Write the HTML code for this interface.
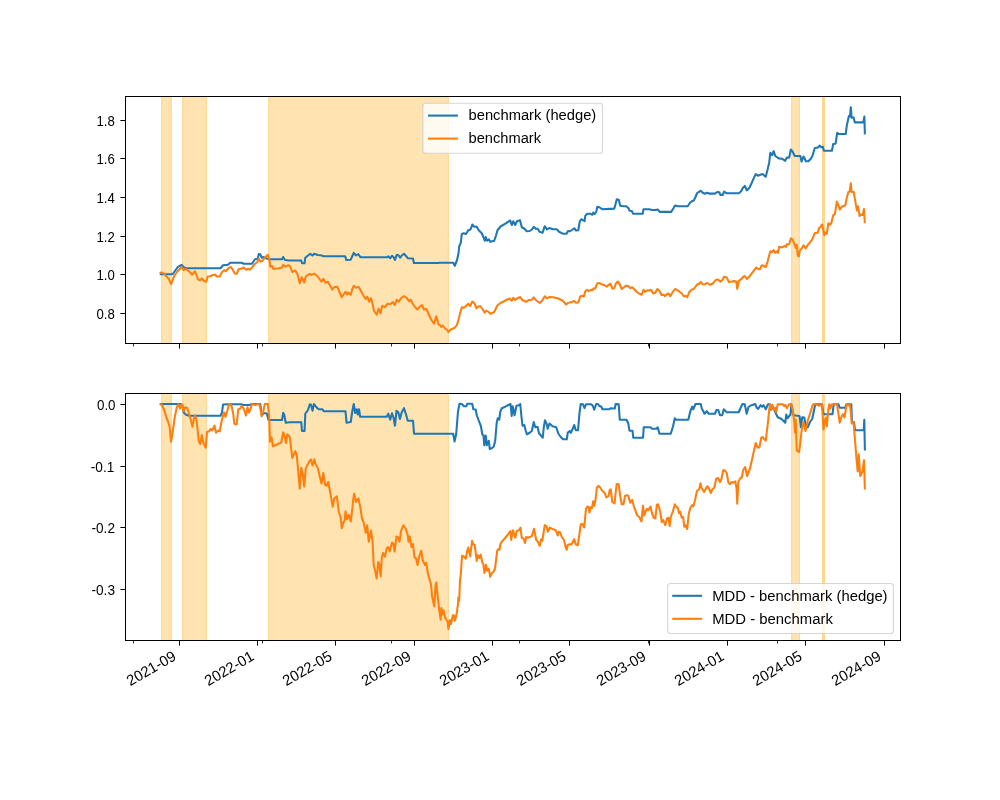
<!DOCTYPE html>
<html><head><meta charset="utf-8"><title>benchmark hedge chart</title>
<style>html,body{margin:0;padding:0;background:#fff}svg{display:block}</style></head>
<body>
<svg width="1000" height="800" viewBox="0 0 1000 800">
<rect width="1000" height="800" fill="#fff"/>
<defs><clipPath id="c1"><rect x="125.5" y="96.5" width="775" height="247"/></clipPath><clipPath id="c2"><rect x="125.5" y="393.5" width="775" height="247"/></clipPath></defs>
<g clip-path="url(#c1)">
<rect x="161" y="91.5" width="11" height="257.00" fill="#ffa500" fill-opacity="0.3"/>
<rect x="161.0" y="91.5" width="1.4" height="257.00" fill="#ffa500" fill-opacity="0.15"/>
<rect x="170.60000000000002" y="91.5" width="1.4" height="257.00" fill="#ffa500" fill-opacity="0.15"/>
<rect x="182" y="91.5" width="25" height="257.00" fill="#ffa500" fill-opacity="0.3"/>
<rect x="182.0" y="91.5" width="1.4" height="257.00" fill="#ffa500" fill-opacity="0.15"/>
<rect x="205.60000000000002" y="91.5" width="1.4" height="257.00" fill="#ffa500" fill-opacity="0.15"/>
<rect x="268" y="91.5" width="181" height="257.00" fill="#ffa500" fill-opacity="0.3"/>
<rect x="268.0" y="91.5" width="1.4" height="257.00" fill="#ffa500" fill-opacity="0.15"/>
<rect x="447.6" y="91.5" width="1.4" height="257.00" fill="#ffa500" fill-opacity="0.15"/>
<rect x="791" y="91.5" width="9" height="257.00" fill="#ffa500" fill-opacity="0.3"/>
<rect x="791.0" y="91.5" width="1.4" height="257.00" fill="#ffa500" fill-opacity="0.15"/>
<rect x="798.5999999999999" y="91.5" width="1.4" height="257.00" fill="#ffa500" fill-opacity="0.15"/>
<rect x="822" y="91.5" width="3" height="257.00" fill="#ffa500" fill-opacity="0.3"/>
<rect x="822.0" y="91.5" width="1.5" height="257.00" fill="#ffa500" fill-opacity="0.22"/>
<rect x="823.5" y="91.5" width="1.5" height="257.00" fill="#ffa500" fill-opacity="0.22"/>
<path d="M159.75 274.25 L172.50 274.25 L174.75 271.25 L177.75 267.20 L181.50 264.80 L183.75 267.20 L186.00 268.25 L220.50 268.25 L223.05 265.25 L228.00 264.80 L230.25 262.70 L241.50 262.70 L243.75 263.75 L252.00 263.75 L255.00 259.25 L257.70 258.80 L258.75 254.00 L260.25 254.30 L261.75 257.75 L264.00 257.00 L266.25 258.50 L270.00 259.25 L282.00 259.25 L283.20 257.00 L285.00 260.00 L289.50 260.45 L290.00 260.45 L301.25 260.45 L302.00 263.30 L304.55 263.30 L305.30 257.75 L308.00 255.50 L310.25 253.70 L312.50 255.50 L314.30 253.70 L317.75 255.05 L320.75 255.20 L323.75 256.25 L345.20 256.25 L346.25 260.00 L350.75 259.70 L352.25 256.25 L353.75 252.80 L356.00 255.50 L358.25 254.00 L360.50 257.30 L386.75 257.30 L388.25 256.25 L390.20 258.20 L392.00 255.80 L393.50 257.00 L395.00 260.00 L396.80 254.75 L398.75 255.50 L400.25 257.75 L401.75 255.50 L404.00 253.70 L406.25 256.25 L407.75 258.20 L413.00 258.50 L413.90 263.00 L438.50 263.00 L439.00 262.80 L453.25 262.80 L454.75 265.80 L457.00 260.25 L458.50 253.50 L459.25 246.00 L460.75 243.00 L461.80 234.00 L463.75 233.25 L466.00 234.00 L468.25 230.25 L470.50 229.50 L472.30 224.55 L474.25 226.80 L476.50 226.50 L478.75 230.25 L481.75 233.25 L483.70 237.75 L484.75 240.75 L485.80 237.00 L487.00 240.75 L488.80 239.25 L490.30 241.80 L494.20 240.75 L496.00 235.50 L497.50 230.25 L500.50 226.50 L505.00 223.80 L510.25 220.50 L511.75 225.00 L513.25 221.25 L515.20 225.00 L517.00 221.25 L520.00 220.20 L521.80 227.25 L524.50 228.75 L526.75 231.30 L529.75 231.00 L532.00 229.50 L533.80 226.80 L535.75 228.75 L537.70 228.75 L539.50 231.75 L542.50 232.80 L544.75 226.20 L547.00 229.50 L549.25 228.00 L553.00 229.20 L556.75 229.20 L559.00 231.75 L562.75 233.70 L566.50 233.70 L568.00 231.00 L570.00 231.25 L572.25 229.75 L574.20 228.25 L576.00 230.50 L578.25 230.20 L579.75 221.50 L581.25 219.25 L582.75 220.00 L584.55 221.20 L585.30 215.80 L587.25 213.70 L590.25 213.70 L592.50 214.75 L593.25 212.50 L594.75 214.00 L596.25 211.75 L597.30 206.80 L599.25 207.25 L602.25 209.20 L609.75 208.90 L614.25 208.75 L615.30 205.00 L616.80 199.30 L618.75 199.75 L620.25 205.75 L623.25 206.20 L626.25 206.20 L628.50 208.30 L629.70 210.70 L631.80 211.00 L633.00 213.70 L642.75 213.70 L643.50 209.20 L649.50 209.20 L651.75 209.95 L655.50 209.95 L657.75 209.50 L659.70 211.90 L671.25 211.90 L673.50 208.30 L675.00 205.45 L678.00 206.20 L687.75 206.20 L690.00 202.75 L691.80 201.25 L693.75 200.50 L695.25 197.50 L697.20 193.00 L699.00 191.80 L700.80 190.75 L702.75 192.70 L705.00 193.75 L707.25 192.70 L709.50 193.75 L710.00 193.60 L714.80 193.60 L717.20 192.00 L719.28 192.32 L720.40 194.88 L722.80 194.88 L724.08 191.68 L726.80 193.28 L738.80 193.28 L741.20 191.20 L742.80 188.00 L744.88 185.92 L746.80 190.40 L749.20 188.00 L751.60 183.20 L754.00 177.60 L755.92 174.08 L758.00 175.68 L760.40 174.72 L762.48 174.08 L765.68 176.80 L767.60 169.60 L769.20 162.40 L770.32 152.80 L772.08 155.20 L773.68 151.20 L775.28 156.00 L778.80 158.40 L782.00 158.72 L785.20 160.80 L786.80 157.60 L789.20 157.60 L790.80 149.60 L792.40 151.20 L794.80 156.00 L800.40 156.00 L801.52 161.60 L803.60 156.48 L806.00 161.28 L808.40 161.28 L810.80 158.72 L812.40 156.00 L814.80 148.00 L818.00 147.52 L819.60 145.60 L821.20 147.20 L822.80 146.88 L823.92 150.72 L831.92 150.72 L833.20 144.00 L835.60 143.68 L837.20 132.80 L838.80 134.08 L845.68 134.08 L846.80 125.60 L848.88 116.00 L850.00 116.48 L850.80 107.20 L851.60 117.60 L853.68 117.60 L854.80 122.40 L863.28 122.40 L864.40 116.48 L864.88 134.40" fill="none" stroke="#1f77b4" stroke-width="2.08" stroke-linejoin="round" stroke-linecap="butt"/>
<path d="M159.75 273.50 L161.25 272.45 L164.25 273.80 L166.50 276.50 L168.75 278.75 L171.00 284.00 L172.50 280.25 L174.75 275.00 L177.00 272.00 L180.00 268.70 L181.80 267.05 L183.75 270.20 L186.00 269.00 L189.75 272.00 L192.00 274.70 L195.00 271.25 L198.00 279.50 L200.25 280.25 L201.75 278.30 L204.00 281.00 L206.25 281.75 L207.75 276.50 L210.00 276.20 L213.00 275.00 L215.25 274.55 L216.75 276.50 L219.75 276.50 L222.00 272.00 L224.25 270.20 L225.75 271.25 L228.00 268.70 L230.70 266.75 L232.50 269.30 L234.75 273.50 L236.70 273.80 L238.50 269.30 L241.50 268.70 L243.75 267.50 L246.00 269.75 L248.25 268.70 L249.75 269.75 L252.00 267.50 L255.00 263.75 L257.25 262.25 L258.75 258.50 L260.25 261.50 L262.50 260.75 L264.75 257.75 L267.75 254.75 L269.25 259.25 L270.45 266.75 L272.25 266.00 L273.30 269.00 L279.00 268.25 L282.00 267.50 L283.20 264.80 L285.75 266.75 L288.00 265.25 L289.80 266.00 L290.00 266.00 L292.25 272.00 L295.25 270.50 L297.50 274.25 L299.75 283.25 L301.70 277.25 L304.25 282.50 L305.75 276.50 L309.50 273.80 L311.75 275.00 L314.00 273.50 L317.00 275.75 L319.25 278.75 L321.50 281.75 L323.30 278.75 L325.25 282.50 L327.80 281.75 L330.50 286.25 L332.45 289.70 L334.25 287.00 L337.25 286.70 L339.50 292.25 L341.75 297.20 L343.70 294.50 L345.50 291.80 L347.00 294.50 L348.50 292.70 L350.75 294.80 L352.25 289.25 L353.75 285.80 L356.00 287.75 L358.70 287.00 L360.50 290.00 L362.75 294.50 L365.75 299.00 L367.25 296.75 L369.20 301.70 L371.00 298.25 L372.50 303.50 L374.00 311.00 L376.70 314.75 L378.50 308.75 L380.45 313.25 L382.25 305.75 L384.50 307.25 L387.50 303.80 L390.20 304.25 L392.75 302.00 L394.70 305.00 L396.80 299.75 L398.75 301.70 L401.00 298.25 L404.00 296.00 L406.25 297.50 L409.25 301.25 L410.75 299.75 L413.00 304.25 L415.25 307.25 L417.50 309.50 L419.75 306.50 L422.00 305.00 L423.95 309.50 L426.20 308.75 L428.00 312.50 L431.00 319.25 L434.00 323.75 L436.25 316.25 L438.50 324.50 L439.75 324.75 L441.25 327.00 L442.75 325.50 L445.00 328.50 L447.25 330.00 L448.45 331.95 L450.25 329.70 L452.50 328.80 L454.75 327.75 L457.00 324.75 L458.95 318.00 L460.00 313.50 L461.80 307.20 L463.75 307.80 L466.00 306.00 L468.25 303.75 L470.20 306.00 L472.30 301.50 L474.25 303.00 L476.50 308.25 L478.00 306.75 L480.25 306.00 L482.50 309.00 L484.75 312.75 L486.25 310.50 L488.50 312.00 L490.30 313.80 L494.20 312.00 L496.00 308.25 L497.50 305.25 L500.50 303.00 L505.00 300.75 L509.50 298.50 L511.75 300.75 L513.25 297.75 L515.20 300.00 L517.00 298.50 L520.30 297.00 L522.25 300.00 L526.00 301.80 L529.00 300.00 L532.00 299.70 L533.80 297.30 L535.75 300.00 L537.70 301.50 L539.80 303.00 L542.20 300.75 L544.75 296.25 L547.00 298.50 L549.25 297.00 L553.00 297.30 L557.50 298.20 L559.75 299.25 L562.75 300.75 L566.20 304.50 L568.00 302.70 L570.00 302.50 L572.25 301.75 L574.20 301.00 L576.00 302.80 L578.25 302.50 L580.20 296.50 L582.00 295.75 L583.80 296.50 L585.30 291.25 L587.25 289.75 L588.75 291.25 L591.00 289.75 L592.50 290.20 L593.70 288.25 L595.20 288.70 L597.00 283.75 L598.80 283.00 L602.25 284.50 L604.50 285.25 L606.75 286.75 L608.70 284.80 L610.50 283.75 L612.45 288.70 L614.25 288.25 L615.75 283.75 L617.70 281.50 L619.50 283.75 L621.75 289.00 L624.00 287.20 L626.25 285.70 L628.80 286.30 L630.30 288.25 L632.25 287.20 L634.20 289.00 L636.75 292.00 L639.00 293.50 L641.70 294.70 L643.50 289.75 L645.00 292.00 L647.25 290.20 L649.50 290.50 L651.00 289.75 L653.25 293.50 L655.20 292.75 L657.30 289.00 L659.70 291.25 L661.50 295.00 L663.75 294.70 L664.80 296.20 L666.75 294.25 L668.70 293.50 L670.20 296.20 L672.75 292.00 L675.00 289.00 L677.25 290.20 L679.50 291.70 L681.75 293.50 L684.00 296.50 L685.80 295.75 L687.30 297.25 L689.25 292.00 L691.50 289.75 L693.75 289.00 L696.00 286.00 L697.50 284.20 L699.30 283.75 L700.80 281.80 L702.75 284.50 L705.00 284.20 L707.25 283.00 L709.50 284.50 L710.00 284.80 L713.20 283.20 L715.60 280.00 L718.00 279.52 L720.40 281.60 L722.48 280.00 L724.08 276.80 L726.80 277.60 L728.88 282.08 L731.60 281.60 L734.00 281.12 L736.40 281.60 L737.20 288.80 L738.80 280.80 L741.20 279.20 L743.28 276.80 L744.88 276.00 L746.80 278.88 L749.20 276.80 L751.60 273.60 L754.00 270.40 L756.08 267.68 L758.00 268.80 L759.92 269.28 L761.52 265.60 L763.60 265.60 L765.68 267.20 L767.60 261.60 L769.20 255.20 L770.32 251.20 L772.08 252.00 L773.68 250.08 L775.28 252.80 L777.20 251.20 L778.00 252.80 L779.12 246.88 L782.00 247.20 L784.88 245.92 L786.00 246.88 L786.80 244.32 L789.20 244.32 L790.80 238.40 L792.88 240.00 L794.80 245.28 L796.08 248.00 L796.88 244.80 L797.68 255.20 L798.80 256.48 L799.92 250.40 L801.52 248.80 L803.60 245.28 L805.68 248.48 L807.92 244.80 L810.00 242.40 L812.40 239.20 L814.80 233.12 L817.52 232.80 L819.12 228.00 L820.40 227.20 L822.00 224.48 L823.28 229.60 L824.40 235.20 L825.52 232.48 L826.80 233.60 L828.40 223.20 L830.00 224.80 L831.28 223.20 L833.20 215.20 L834.80 214.40 L836.88 201.60 L838.48 205.60 L839.92 209.60 L842.00 206.40 L845.20 205.60 L846.80 197.60 L848.40 192.00 L849.68 191.52 L850.80 183.20 L851.60 192.00 L853.68 192.00 L854.80 198.40 L856.88 210.40 L858.00 206.40 L859.60 216.00 L861.20 214.40 L862.80 214.88 L863.92 209.12 L864.88 223.20" fill="none" stroke="#ff7f0e" stroke-width="2.08" stroke-linejoin="round" stroke-linecap="butt"/>
</g>
<line x1="179.5" y1="343.5" x2="179.5" y2="348.60" stroke="#000" stroke-width="1"/>
<line x1="257.5" y1="343.5" x2="257.5" y2="348.60" stroke="#000" stroke-width="1"/>
<line x1="335.5" y1="343.5" x2="335.5" y2="348.60" stroke="#000" stroke-width="1"/>
<line x1="414.5" y1="343.5" x2="414.5" y2="348.60" stroke="#000" stroke-width="1"/>
<line x1="492.5" y1="343.5" x2="492.5" y2="348.60" stroke="#000" stroke-width="1"/>
<line x1="569.5" y1="343.5" x2="569.5" y2="348.60" stroke="#000" stroke-width="1"/>
<line x1="649.5" y1="343.5" x2="649.5" y2="348.60" stroke="#000" stroke-width="1"/>
<line x1="727.5" y1="343.5" x2="727.5" y2="348.60" stroke="#000" stroke-width="1"/>
<line x1="805.5" y1="343.5" x2="805.5" y2="348.60" stroke="#000" stroke-width="1"/>
<line x1="884.5" y1="343.5" x2="884.5" y2="348.60" stroke="#000" stroke-width="1"/>
<line x1="133.5" y1="343.5" x2="133.5" y2="346.50" stroke="#000" stroke-width="1" stroke-opacity="0.8"/>
<line x1="262.5" y1="343.5" x2="262.5" y2="346.50" stroke="#000" stroke-width="1" stroke-opacity="0.8"/>
<line x1="391.5" y1="343.5" x2="391.5" y2="346.50" stroke="#000" stroke-width="1" stroke-opacity="0.8"/>
<line x1="519.5" y1="343.5" x2="519.5" y2="346.50" stroke="#000" stroke-width="1" stroke-opacity="0.8"/>
<line x1="648.5" y1="343.5" x2="648.5" y2="346.50" stroke="#000" stroke-width="1" stroke-opacity="0.8"/>
<line x1="777.5" y1="343.5" x2="777.5" y2="346.50" stroke="#000" stroke-width="1" stroke-opacity="0.8"/>
<line x1="125.5" y1="313.5" x2="120.40" y2="313.5" stroke="#000" stroke-width="1"/>
<text x="114.78" y="318.80" text-anchor="end" font-family="Liberation Sans, sans-serif" font-size="15" textLength="18.3" lengthAdjust="spacingAndGlyphs" fill="#000">0.8</text>
<line x1="125.5" y1="274.5" x2="120.40" y2="274.5" stroke="#000" stroke-width="1"/>
<text x="114.78" y="279.80" text-anchor="end" font-family="Liberation Sans, sans-serif" font-size="15" textLength="18.3" lengthAdjust="spacingAndGlyphs" fill="#000">1.0</text>
<line x1="125.5" y1="236.5" x2="120.40" y2="236.5" stroke="#000" stroke-width="1"/>
<text x="114.78" y="241.80" text-anchor="end" font-family="Liberation Sans, sans-serif" font-size="15" textLength="18.3" lengthAdjust="spacingAndGlyphs" fill="#000">1.2</text>
<line x1="125.5" y1="197.5" x2="120.40" y2="197.5" stroke="#000" stroke-width="1"/>
<text x="114.78" y="202.80" text-anchor="end" font-family="Liberation Sans, sans-serif" font-size="15" textLength="18.3" lengthAdjust="spacingAndGlyphs" fill="#000">1.4</text>
<line x1="125.5" y1="158.5" x2="120.40" y2="158.5" stroke="#000" stroke-width="1"/>
<text x="114.78" y="163.80" text-anchor="end" font-family="Liberation Sans, sans-serif" font-size="15" textLength="18.3" lengthAdjust="spacingAndGlyphs" fill="#000">1.6</text>
<line x1="125.5" y1="120.5" x2="120.40" y2="120.5" stroke="#000" stroke-width="1"/>
<text x="114.78" y="125.80" text-anchor="end" font-family="Liberation Sans, sans-serif" font-size="15" textLength="18.3" lengthAdjust="spacingAndGlyphs" fill="#000">1.8</text>
<rect x="125.5" y="96.5" width="775.0" height="247.0" fill="none" stroke="#000" stroke-width="1"/>
<rect x="422.9" y="103.2" width="179.6" height="50.0" rx="2.8" ry="2.8" fill="#fff" fill-opacity="0.8" stroke="#ccc" stroke-opacity="0.8" stroke-width="1.11"/>
<line x1="429.06" y1="115.6" x2="456.86" y2="115.6" stroke="#1f77b4" stroke-width="2.08" stroke-linecap="square"/>
<text x="468.56" y="119.90" font-family="Liberation Sans, sans-serif" font-size="15.3" textLength="127.7" lengthAdjust="spacingAndGlyphs" fill="#000">benchmark (hedge)</text>
<line x1="429.06" y1="138.6" x2="456.86" y2="138.6" stroke="#ff7f0e" stroke-width="2.08" stroke-linecap="square"/>
<text x="468.56" y="142.90" font-family="Liberation Sans, sans-serif" font-size="15.3" textLength="72.5" lengthAdjust="spacingAndGlyphs" fill="#000">benchmark</text>
<g clip-path="url(#c2)">
<rect x="161" y="388.5" width="11" height="257.00" fill="#ffa500" fill-opacity="0.3"/>
<rect x="161.0" y="388.5" width="1.4" height="257.00" fill="#ffa500" fill-opacity="0.15"/>
<rect x="170.60000000000002" y="388.5" width="1.4" height="257.00" fill="#ffa500" fill-opacity="0.15"/>
<rect x="182" y="388.5" width="25" height="257.00" fill="#ffa500" fill-opacity="0.3"/>
<rect x="182.0" y="388.5" width="1.4" height="257.00" fill="#ffa500" fill-opacity="0.15"/>
<rect x="205.60000000000002" y="388.5" width="1.4" height="257.00" fill="#ffa500" fill-opacity="0.15"/>
<rect x="268" y="388.5" width="181" height="257.00" fill="#ffa500" fill-opacity="0.3"/>
<rect x="268.0" y="388.5" width="1.4" height="257.00" fill="#ffa500" fill-opacity="0.15"/>
<rect x="447.6" y="388.5" width="1.4" height="257.00" fill="#ffa500" fill-opacity="0.15"/>
<rect x="791" y="388.5" width="9" height="257.00" fill="#ffa500" fill-opacity="0.3"/>
<rect x="791.0" y="388.5" width="1.4" height="257.00" fill="#ffa500" fill-opacity="0.15"/>
<rect x="798.5999999999999" y="388.5" width="1.4" height="257.00" fill="#ffa500" fill-opacity="0.15"/>
<rect x="822" y="388.5" width="3" height="257.00" fill="#ffa500" fill-opacity="0.3"/>
<rect x="822.0" y="388.5" width="1.5" height="257.00" fill="#ffa500" fill-opacity="0.22"/>
<rect x="823.5" y="388.5" width="1.5" height="257.00" fill="#ffa500" fill-opacity="0.22"/>
<path d="M159.75 403.95 L177.00 403.95 L180.00 403.95 L182.25 405.00 L183.75 412.50 L186.00 414.75 L189.00 415.80 L220.50 415.80 L222.00 412.50 L223.05 404.55 L228.00 404.25 L241.50 404.25 L243.00 405.00 L249.75 405.00 L252.00 403.95 L260.25 403.95 L261.75 415.50 L264.00 413.25 L266.70 413.25 L268.50 420.00 L282.00 420.00 L283.20 412.80 L284.25 414.75 L285.75 422.70 L289.50 422.25 L290.00 422.30 L301.25 422.30 L302.00 431.00 L304.55 431.00 L305.30 413.75 L308.00 410.00 L309.80 404.30 L311.00 404.75 L312.50 410.75 L314.00 404.00 L316.25 407.00 L318.50 409.25 L322.25 409.25 L323.75 411.20 L345.50 411.20 L346.55 422.75 L350.75 422.00 L352.25 411.50 L353.75 404.00 L355.25 413.00 L356.75 409.25 L357.80 414.50 L359.00 409.25 L360.20 416.75 L386.75 416.75 L388.25 413.75 L390.20 419.75 L392.00 413.30 L393.50 417.50 L395.00 425.75 L396.50 410.75 L398.30 412.25 L399.95 419.00 L401.75 412.25 L404.00 408.20 L406.25 415.25 L407.75 420.80 L413.00 420.80 L414.05 433.70 L438.50 433.70 L440.00 433.70 L453.20 433.70 L454.55 441.50 L456.20 434.00 L458.00 411.50 L459.50 403.70 L461.75 404.00 L464.00 406.25 L466.25 406.25 L467.30 403.70 L472.25 403.70 L473.30 409.25 L475.70 409.55 L476.75 415.25 L479.00 421.25 L480.80 425.75 L482.30 434.30 L483.50 435.50 L484.25 445.25 L485.75 435.50 L486.80 445.25 L488.75 440.75 L489.80 449.00 L491.75 448.25 L493.70 446.75 L495.20 440.75 L496.70 422.75 L497.75 418.25 L499.25 419.75 L500.30 411.50 L501.80 408.20 L505.25 406.70 L510.50 404.00 L511.70 416.00 L512.75 406.25 L514.55 415.25 L516.50 405.80 L518.75 405.20 L520.25 404.00 L521.30 415.25 L522.50 425.75 L524.30 425.00 L525.80 431.00 L527.00 434.30 L530.00 432.50 L531.80 431.00 L533.75 422.00 L535.25 427.25 L537.50 426.80 L539.00 433.25 L542.75 437.75 L543.80 427.25 L545.00 420.20 L546.80 424.25 L547.70 428.75 L549.50 423.50 L552.50 426.20 L556.25 427.25 L558.50 434.00 L560.75 437.00 L563.00 439.25 L566.75 439.25 L567.80 432.50 L569.75 431.00 L570.80 432.80 L572.75 428.75 L574.25 425.00 L575.75 430.25 L578.00 430.25 L579.50 413.00 L580.75 404.00 L583.00 404.30 L584.50 408.20 L586.00 404.30 L591.25 404.30 L592.75 405.80 L594.25 409.70 L596.20 404.00 L598.00 404.00 L599.50 406.25 L601.00 406.25 L602.50 409.25 L609.25 409.25 L610.75 408.20 L612.70 408.50 L614.80 408.50 L615.70 404.00 L618.70 404.30 L619.75 419.75 L626.50 419.75 L628.30 423.50 L629.50 430.70 L632.50 430.70 L633.25 437.75 L643.00 437.75 L643.75 427.25 L650.50 427.25 L652.00 428.75 L656.50 428.75 L657.70 427.25 L659.50 433.70 L670.75 433.70 L673.00 426.50 L674.80 418.25 L676.30 419.75 L688.30 419.75 L690.25 411.50 L692.20 406.70 L693.25 409.25 L695.50 404.00 L700.75 404.00 L701.80 408.50 L704.50 413.75 L706.75 411.20 L708.70 413.75 L715.00 413.75 L716.50 410.00 L718.30 410.00 L720.00 415.25 L722.25 415.25 L723.75 409.25 L726.75 412.25 L738.75 412.25 L741.00 407.00 L742.50 404.00 L744.75 404.30 L746.70 413.75 L748.50 407.00 L750.75 405.50 L755.25 404.00 L756.75 407.75 L758.25 408.80 L760.50 405.20 L762.00 406.70 L763.50 405.20 L765.75 409.25 L768.00 404.30 L770.25 404.30 L771.75 408.50 L774.00 409.25 L775.50 412.70 L777.75 417.20 L781.50 419.00 L785.25 422.75 L786.30 414.50 L787.50 418.25 L790.50 414.50 L791.25 404.00 L793.50 415.25 L799.50 416.00 L801.00 427.25 L802.20 417.20 L804.30 417.50 L805.50 424.25 L807.75 427.25 L810.00 422.00 L812.25 419.00 L813.75 411.50 L815.25 404.30 L822.00 404.30 L823.50 414.20 L832.50 414.20 L833.70 404.30 L838.50 404.30 L839.70 407.75 L845.25 407.75 L846.30 404.30 L851.25 404.30 L852.00 422.00 L853.95 422.00 L855.00 430.25 L863.70 430.25 L864.30 419.75 L864.90 450.50" fill="none" stroke="#1f77b4" stroke-width="2.08" stroke-linejoin="round" stroke-linecap="butt"/>
<path d="M159.75 403.95 L162.00 405.00 L164.25 410.25 L166.50 417.75 L168.00 421.50 L169.50 426.00 L171.00 441.75 L172.50 433.50 L174.75 417.00 L177.00 406.50 L178.50 404.25 L180.00 408.75 L181.80 403.95 L183.75 411.00 L185.25 407.25 L187.20 408.00 L189.30 414.75 L190.80 420.00 L192.45 426.75 L193.80 419.25 L195.00 415.50 L196.50 420.00 L197.70 430.50 L198.75 441.00 L200.25 444.00 L201.75 435.00 L203.25 442.50 L205.80 447.75 L207.00 432.00 L209.25 431.25 L210.45 429.00 L212.25 430.50 L214.50 425.70 L216.00 432.75 L218.25 430.50 L219.75 431.25 L221.25 423.00 L222.75 416.25 L224.25 412.50 L225.45 417.00 L227.25 411.00 L228.75 405.00 L230.25 403.95 L231.75 406.50 L233.25 414.00 L234.30 423.75 L236.70 424.50 L238.20 409.50 L240.00 408.75 L241.80 405.75 L243.75 408.75 L246.00 415.50 L247.50 407.25 L249.00 412.50 L250.80 408.00 L252.00 403.95 L255.00 405.00 L257.25 404.25 L259.20 403.95 L260.25 408.00 L261.75 416.25 L263.25 411.75 L264.75 403.95 L267.75 403.95 L269.25 417.00 L270.00 441.75 L271.50 437.25 L273.00 446.25 L277.50 444.30 L281.25 442.50 L283.20 432.30 L284.70 436.50 L286.20 443.25 L287.25 434.25 L289.50 436.50 L290.00 438.50 L292.25 458.00 L295.25 451.25 L296.75 455.00 L299.75 488.75 L301.25 467.75 L302.75 474.50 L304.25 486.50 L305.75 468.50 L309.50 461.00 L311.00 459.50 L312.50 465.50 L314.30 459.20 L315.80 464.75 L317.75 467.75 L320.00 477.50 L321.50 483.50 L323.30 473.00 L325.25 485.00 L326.75 485.75 L328.25 482.00 L330.50 494.00 L332.75 506.75 L334.25 498.50 L336.80 496.25 L338.75 511.75 L340.70 517.75 L341.75 528.25 L343.25 523.00 L344.75 520.00 L345.50 511.30 L347.00 519.25 L348.80 514.75 L350.75 521.50 L352.25 509.50 L353.30 499.00 L354.20 493.75 L356.00 502.00 L358.25 498.25 L360.20 506.50 L362.00 518.50 L363.80 523.00 L365.75 532.75 L367.25 525.25 L368.75 541.75 L371.00 530.50 L372.50 541.00 L373.70 565.00 L375.20 571.00 L376.70 578.50 L378.20 562.00 L379.25 564.25 L380.75 576.25 L381.80 557.50 L383.00 553.00 L384.80 556.75 L386.75 548.50 L388.25 547.00 L389.75 551.50 L392.00 542.50 L393.50 544.00 L394.55 551.50 L396.50 536.50 L398.00 537.25 L399.50 541.75 L401.00 531.25 L403.25 525.25 L405.50 528.25 L407.75 535.00 L408.50 541.75 L409.70 536.50 L411.50 547.00 L413.00 544.00 L414.50 557.50 L416.00 558.25 L417.50 565.00 L419.30 556.00 L421.25 550.75 L422.75 560.50 L425.00 565.00 L426.20 562.75 L428.00 574.00 L431.00 584.50 L432.00 596.00 L434.24 606.40 L435.60 584.80 L436.40 582.40 L437.20 592.00 L439.20 609.60 L440.64 619.60 L441.44 608.00 L442.40 614.40 L443.60 610.40 L444.80 616.80 L446.40 620.00 L447.60 621.60 L448.40 628.96 L449.20 625.60 L449.76 620.00 L450.80 624.00 L451.60 621.60 L452.80 615.20 L454.00 615.60 L454.56 620.80 L455.60 618.40 L456.80 612.80 L458.00 604.00 L458.40 597.20 L459.20 600.80 L460.00 580.00 L460.80 574.50 L462.00 555.75 L463.80 556.50 L465.75 558.75 L467.25 550.50 L468.30 547.50 L470.25 556.50 L472.05 540.75 L473.25 544.50 L474.75 544.80 L476.70 561.00 L477.75 555.00 L479.25 558.00 L480.75 554.70 L482.25 562.50 L483.30 564.00 L484.50 573.00 L486.00 564.75 L487.20 570.75 L488.70 568.50 L490.20 576.75 L492.00 573.00 L493.80 571.50 L495.00 568.50 L497.25 550.50 L498.30 549.00 L499.50 549.75 L500.25 544.50 L501.75 541.80 L504.75 538.50 L507.75 534.75 L510.30 531.00 L511.20 540.00 L513.00 530.25 L515.25 537.75 L516.75 531.00 L519.00 530.25 L520.50 527.70 L521.70 537.75 L523.50 538.50 L525.00 543.00 L526.20 537.00 L528.00 537.75 L531.75 536.25 L534.00 528.75 L536.25 540.00 L537.75 541.50 L539.70 545.70 L541.20 539.25 L542.25 540.75 L543.75 531.75 L544.80 525.00 L546.75 526.80 L547.80 531.75 L549.75 527.70 L552.00 528.75 L555.75 530.25 L557.70 535.50 L558.75 531.75 L560.25 532.50 L561.75 537.00 L564.00 540.00 L565.50 546.75 L566.70 549.75 L567.75 544.80 L570.00 544.20 L571.50 544.50 L574.20 539.25 L575.70 544.20 L577.80 545.25 L579.00 537.00 L580.75 524.50 L582.25 523.75 L584.20 527.50 L586.00 508.75 L587.50 506.50 L588.70 507.25 L589.45 512.50 L590.50 507.25 L592.00 508.00 L593.20 501.25 L594.25 505.75 L595.75 498.25 L596.80 487.75 L598.30 485.80 L600.25 487.75 L602.20 490.75 L604.75 493.00 L606.25 497.50 L608.50 496.00 L609.70 490.00 L610.75 489.25 L612.25 502.00 L614.50 503.50 L616.00 490.00 L616.75 484.00 L618.70 484.30 L620.20 496.00 L621.70 504.25 L623.50 504.25 L625.00 496.00 L626.80 495.25 L628.30 495.70 L630.25 502.75 L632.20 499.75 L633.70 505.75 L635.80 511.75 L637.30 515.50 L639.25 517.00 L641.50 521.50 L643.00 505.75 L644.20 515.50 L646.75 508.75 L648.25 510.25 L650.50 506.50 L652.00 513.25 L653.80 517.75 L655.30 518.50 L656.80 505.00 L658.00 504.25 L660.25 511.75 L661.75 522.25 L663.25 520.00 L665.20 525.25 L667.00 518.50 L668.50 517.75 L669.70 526.00 L670.75 517.00 L673.00 511.00 L674.80 504.25 L676.75 507.25 L677.80 507.70 L679.00 513.25 L680.20 511.75 L681.70 517.75 L683.20 517.00 L684.25 526.75 L685.75 525.25 L687.25 529.00 L688.75 514.00 L690.25 508.00 L692.20 505.00 L693.25 506.50 L694.75 501.25 L697.00 490.75 L699.25 489.25 L700.45 483.25 L701.50 487.75 L704.20 491.80 L707.20 486.25 L709.00 488.50 L710.80 493.00 L712.30 489.25 L714.25 487.75 L716.20 478.75 L718.00 478.00 L720.00 482.00 L721.50 479.00 L723.00 470.75 L724.50 470.00 L726.75 473.00 L728.25 482.00 L729.75 484.25 L731.70 482.00 L733.50 482.75 L735.30 481.25 L736.50 488.00 L737.25 503.75 L738.30 482.00 L740.25 478.25 L741.75 477.50 L743.25 470.00 L745.20 467.00 L747.00 476.00 L750.00 468.50 L753.00 455.00 L755.70 443.00 L757.50 447.50 L759.30 447.50 L761.25 437.75 L762.75 437.00 L764.25 439.25 L765.75 440.75 L768.00 422.00 L769.20 410.00 L769.95 404.30 L771.00 410.00 L772.50 404.75 L774.00 410.00 L775.20 407.75 L776.25 412.25 L777.75 404.30 L783.00 404.30 L784.20 406.25 L785.25 404.75 L786.75 408.20 L789.00 404.30 L791.25 404.30 L792.75 410.00 L794.25 421.25 L795.00 432.50 L795.75 419.75 L796.80 450.50 L799.20 452.00 L800.25 443.00 L801.75 429.50 L803.25 422.00 L805.50 431.00 L807.75 420.50 L810.00 413.75 L812.25 406.25 L813.30 404.30 L816.00 404.30 L819.00 405.80 L822.00 404.75 L823.50 429.50 L825.00 419.75 L826.20 417.50 L826.80 426.50 L828.30 410.00 L829.20 404.30 L830.25 408.80 L831.75 404.30 L837.00 404.30 L838.50 414.50 L839.70 422.75 L841.50 416.75 L843.00 414.20 L844.50 417.50 L845.70 410.00 L846.75 404.30 L848.25 405.50 L849.75 404.30 L850.80 411.50 L851.70 423.50 L853.50 422.00 L855.00 440.00 L856.80 462.50 L857.70 471.50 L858.75 454.25 L860.25 476.00 L862.50 471.50 L864.00 460.25 L864.90 489.50" fill="none" stroke="#ff7f0e" stroke-width="2.08" stroke-linejoin="round" stroke-linecap="butt"/>
</g>
<line x1="179.5" y1="640.5" x2="179.5" y2="645.60" stroke="#000" stroke-width="1"/>
<text x="177.10" y="659.22" text-anchor="end" transform="rotate(-30 177.10 659.22)" font-family="Liberation Sans, sans-serif" font-size="15" textLength="54.0" lengthAdjust="spacingAndGlyphs" fill="#000">2021-09</text>
<line x1="257.5" y1="640.5" x2="257.5" y2="645.60" stroke="#000" stroke-width="1"/>
<text x="255.10" y="659.22" text-anchor="end" transform="rotate(-30 255.10 659.22)" font-family="Liberation Sans, sans-serif" font-size="15" textLength="54.0" lengthAdjust="spacingAndGlyphs" fill="#000">2022-01</text>
<line x1="335.5" y1="640.5" x2="335.5" y2="645.60" stroke="#000" stroke-width="1"/>
<text x="333.10" y="659.22" text-anchor="end" transform="rotate(-30 333.10 659.22)" font-family="Liberation Sans, sans-serif" font-size="15" textLength="54.0" lengthAdjust="spacingAndGlyphs" fill="#000">2022-05</text>
<line x1="414.5" y1="640.5" x2="414.5" y2="645.60" stroke="#000" stroke-width="1"/>
<text x="412.10" y="659.22" text-anchor="end" transform="rotate(-30 412.10 659.22)" font-family="Liberation Sans, sans-serif" font-size="15" textLength="54.0" lengthAdjust="spacingAndGlyphs" fill="#000">2022-09</text>
<line x1="492.5" y1="640.5" x2="492.5" y2="645.60" stroke="#000" stroke-width="1"/>
<text x="490.10" y="659.22" text-anchor="end" transform="rotate(-30 490.10 659.22)" font-family="Liberation Sans, sans-serif" font-size="15" textLength="54.0" lengthAdjust="spacingAndGlyphs" fill="#000">2023-01</text>
<line x1="569.5" y1="640.5" x2="569.5" y2="645.60" stroke="#000" stroke-width="1"/>
<text x="567.10" y="659.22" text-anchor="end" transform="rotate(-30 567.10 659.22)" font-family="Liberation Sans, sans-serif" font-size="15" textLength="54.0" lengthAdjust="spacingAndGlyphs" fill="#000">2023-05</text>
<line x1="649.5" y1="640.5" x2="649.5" y2="645.60" stroke="#000" stroke-width="1"/>
<text x="647.10" y="659.22" text-anchor="end" transform="rotate(-30 647.10 659.22)" font-family="Liberation Sans, sans-serif" font-size="15" textLength="54.0" lengthAdjust="spacingAndGlyphs" fill="#000">2023-09</text>
<line x1="727.5" y1="640.5" x2="727.5" y2="645.60" stroke="#000" stroke-width="1"/>
<text x="725.10" y="659.22" text-anchor="end" transform="rotate(-30 725.10 659.22)" font-family="Liberation Sans, sans-serif" font-size="15" textLength="54.0" lengthAdjust="spacingAndGlyphs" fill="#000">2024-01</text>
<line x1="805.5" y1="640.5" x2="805.5" y2="645.60" stroke="#000" stroke-width="1"/>
<text x="803.10" y="659.22" text-anchor="end" transform="rotate(-30 803.10 659.22)" font-family="Liberation Sans, sans-serif" font-size="15" textLength="54.0" lengthAdjust="spacingAndGlyphs" fill="#000">2024-05</text>
<line x1="884.5" y1="640.5" x2="884.5" y2="645.60" stroke="#000" stroke-width="1"/>
<text x="882.10" y="659.22" text-anchor="end" transform="rotate(-30 882.10 659.22)" font-family="Liberation Sans, sans-serif" font-size="15" textLength="54.0" lengthAdjust="spacingAndGlyphs" fill="#000">2024-09</text>
<line x1="133.5" y1="640.5" x2="133.5" y2="643.50" stroke="#000" stroke-width="1" stroke-opacity="0.8"/>
<line x1="262.5" y1="640.5" x2="262.5" y2="643.50" stroke="#000" stroke-width="1" stroke-opacity="0.8"/>
<line x1="391.5" y1="640.5" x2="391.5" y2="643.50" stroke="#000" stroke-width="1" stroke-opacity="0.8"/>
<line x1="519.5" y1="640.5" x2="519.5" y2="643.50" stroke="#000" stroke-width="1" stroke-opacity="0.8"/>
<line x1="648.5" y1="640.5" x2="648.5" y2="643.50" stroke="#000" stroke-width="1" stroke-opacity="0.8"/>
<line x1="777.5" y1="640.5" x2="777.5" y2="643.50" stroke="#000" stroke-width="1" stroke-opacity="0.8"/>
<line x1="125.5" y1="404.5" x2="120.40" y2="404.5" stroke="#000" stroke-width="1"/>
<text x="115.58" y="409.80" text-anchor="end" font-family="Liberation Sans, sans-serif" font-size="15" textLength="18.6" lengthAdjust="spacingAndGlyphs" fill="#000">0.0</text>
<line x1="125.5" y1="466.5" x2="120.40" y2="466.5" stroke="#000" stroke-width="1"/>
<text x="114.28" y="471.80" text-anchor="end" font-family="Liberation Sans, sans-serif" font-size="15" textLength="23.5" lengthAdjust="spacingAndGlyphs" fill="#000">-0.1</text>
<line x1="125.5" y1="527.5" x2="120.40" y2="527.5" stroke="#000" stroke-width="1"/>
<text x="114.98" y="532.80" text-anchor="end" font-family="Liberation Sans, sans-serif" font-size="15" textLength="23.5" lengthAdjust="spacingAndGlyphs" fill="#000">-0.2</text>
<line x1="125.5" y1="589.5" x2="120.40" y2="589.5" stroke="#000" stroke-width="1"/>
<text x="114.98" y="594.80" text-anchor="end" font-family="Liberation Sans, sans-serif" font-size="15" textLength="23.5" lengthAdjust="spacingAndGlyphs" fill="#000">-0.3</text>
<rect x="125.5" y="393.5" width="775.0" height="247.0" fill="none" stroke="#000" stroke-width="1"/>
<rect x="667.7" y="583.5" width="225.7" height="50.0" rx="2.8" ry="2.8" fill="#fff" fill-opacity="0.8" stroke="#ccc" stroke-opacity="0.8" stroke-width="1.11"/>
<line x1="673.26" y1="595.8" x2="701.06" y2="595.8" stroke="#1f77b4" stroke-width="2.08" stroke-linecap="square"/>
<text x="712.16" y="600.50" font-family="Liberation Sans, sans-serif" font-size="15.3" textLength="175.4" lengthAdjust="spacingAndGlyphs" fill="#000">MDD - benchmark (hedge)</text>
<line x1="673.26" y1="618.8" x2="701.06" y2="618.8" stroke="#ff7f0e" stroke-width="2.08" stroke-linecap="square"/>
<text x="712.16" y="623.50" font-family="Liberation Sans, sans-serif" font-size="15.3" textLength="120.7" lengthAdjust="spacingAndGlyphs" fill="#000">MDD - benchmark</text>
</svg>
</body></html>
